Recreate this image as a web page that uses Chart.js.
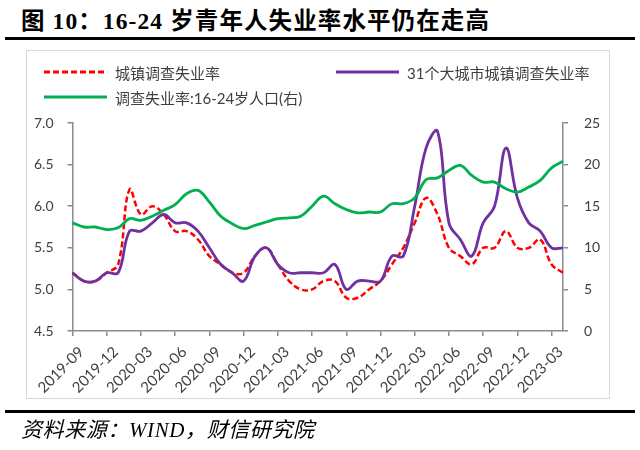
<!DOCTYPE html>
<html>
<head>
<meta charset="utf-8">
<script src="https://cdn.jsdelivr.net/npm/chart.js@4.4.0/dist/chart.umd.min.js"></script>
<style>
  body { margin: 0; width: 640px; height: 450px; position: relative; background: #fff; overflow: hidden; }
  #title { position: absolute; left: 21px; top: 10px; font: bold 23.5px/23px "Liberation Serif", "Noto Sans CJK SC"; color: #000; white-space: nowrap; letter-spacing: 1.1px; }
  .rule { position: absolute; left: 5px; width: 630px; height: 3px; background: #000; }
  #box { position: absolute; left: 26px; top: 50px; width: 584px; height: 349px; border: 1.5px solid #d9d9d9; box-sizing: border-box; }
  #chartWrap { position: absolute; left: 0; top: 0; width: 640px; height: 450px; }
  .leg { position: absolute; height: 20px; display: flex; align-items: center; font: 15px Lato, "Noto Sans CJK SC"; color: #404040; white-space: nowrap; }
  .leg svg { margin-right: 8px; }
  #source { position: absolute; left: 21px; top: 418px; font: italic 21px/24px "Liberation Serif", "Noto Sans CJK SC"; color: #000; white-space: nowrap; letter-spacing: 0.6px; }
</style>
</head>
<body>
<div id="title">图 10：16-24 岁青年人失业率水平仍在走高</div>
<div class="rule" style="top:37px"></div>
<div id="box"></div>
<div id="chartWrap"><canvas id="youthChart" width="640" height="450"></canvas></div>
<div id="legend"></div>
<div class="rule" style="top:410px"></div>
<div id="source">资料来源：WIND，财信研究院</div>

<script>
// months 2019-09 .. 2023-04
let months = [];
for (let y = 2019, m = 9; y < 2023 || m <= 4; m++) {
    if (m > 12) { m = 1; y++; }
    months.push(y + '-' + String(m).padStart(2, '0'));
}

// 城镇调查失业率 (%)
const urbanRate = [5.2, 5.1, 5.1, 5.2,
    5.3, 6.2, 5.9, 6.0, 5.9, 5.7, 5.7, 5.6, 5.4, 5.3, 5.2, 5.2,
    5.4, 5.5, 5.3, 5.1, 5.0, 5.0, 5.1, 5.1, 4.9, 4.9, 5.0, 5.1,
    5.3, 5.5, 5.8, 6.1, 5.9, 5.5, 5.4, 5.3, 5.5, 5.5, 5.7, 5.5,
    5.5, 5.6, 5.3, 5.2];

// 31个大城市城镇调查失业率 (%)
const bigCityRate = [5.2, 5.1, 5.1, 5.2,
    5.2, 5.7, 5.7, 5.8, 5.9, 5.8, 5.8, 5.7, 5.5, 5.3, 5.2, 5.1,
    5.4, 5.5, 5.3, 5.2, 5.2, 5.2, 5.2, 5.3, 5.0, 5.1, 5.1, 5.1,
    5.4, 5.4, 6.0, 6.7, 6.9, 5.8, 5.6, 5.4, 5.8, 6.0, 6.7, 6.1,
    5.8, 5.7, 5.5, 5.5];

// 调查失业率:16-24岁人口 (%), right axis
const youthRate = [13.0, 12.5, 12.5, 12.2,
    12.4, 13.5, 13.3, 13.8, 14.5, 15.2, 16.5, 16.9, 15.5, 13.8, 12.9, 12.3,
    12.7, 13.1, 13.5, 13.6, 13.8, 15.0, 16.2, 15.3, 14.6, 14.2, 14.3, 14.3,
    15.3, 15.3, 16.0, 18.2, 18.4, 19.3, 19.9, 18.7, 17.9, 17.9, 17.1, 16.7,
    17.3, 18.1, 19.6, 20.4];

const seriesNames = ['城镇调查失业率', '31个大城市城镇调查失业率', '调查失业率:16-24岁人口(右)'];

const axisColor = '#8c8c8c';
const tickFont = { family: 'Lato', size: 14 };
const textColor = '#404040';

const ctx = document.getElementById('youthChart').getContext('2d');
const chart = new Chart(ctx, {
    type: 'line',
    data: {
        labels: months,
        datasets: [
            {
                label: seriesNames[0],
                data: urbanRate,
                yAxisID: 'y',
                borderColor: '#ff0000',
                borderWidth: 2.5,
                borderDash: [6, 3],
                pointRadius: 0,
                tension: 0.4,
                order: 3
            },
            {
                label: seriesNames[1],
                data: bigCityRate,
                yAxisID: 'y',
                borderColor: '#7030a0',
                borderWidth: 2.8,
                pointRadius: 0,
                tension: 0.4,
                order: 2
            },
            {
                label: seriesNames[2],
                data: youthRate,
                yAxisID: 'y1',
                borderColor: '#00b050',
                borderWidth: 2.8,
                pointRadius: 0,
                tension: 0.4,
                order: 1
            }
        ]
    },
    options: {
        responsive: false,
        animation: false,
        layout: { padding: { top: 123, left: 0, right: 0, bottom: 0 } },
        plugins: {
            legend: { display: false },
            tooltip: { enabled: false }
        },
        scales: {
            x: {
                offset: false,
                grid: {
                    drawOnChartArea: false,
                    drawTicks: true,
                    tickLength: 5,
                    lineWidth: 1.5,
                    color: c => c.index % 3 === 0 ? axisColor : 'rgba(0,0,0,0)'
                },
                border: { color: axisColor, width: 1.5 },
                ticks: {
                    autoSkip: false,
                    minRotation: 45,
                    maxRotation: 45,
                    padding: 7,
                    labelOffset: 9,
                    font: { family: 'Lato', size: 15 },
                    color: textColor,
                    callback: (v, i) => i % 3 === 0 ? months[i] : ''
                },
                afterFit: s => { s.height = 119; }
            },
            y: {
                position: 'left',
                min: 4.5,
                max: 7.0,
                grid: { drawOnChartArea: false, tickLength: 5, color: axisColor, lineWidth: 1.5 },
                border: { color: axisColor, width: 1.5 },
                ticks: {
                    stepSize: 0.5,
                    padding: 14,
                    font: tickFont,
                    color: textColor,
                    callback: v => v.toFixed(1)
                },
                afterFit: s => { s.width = 72.5; }
            },
            y1: {
                position: 'right',
                min: 0,
                max: 25,
                grid: { drawOnChartArea: false, tickLength: 5, color: axisColor, lineWidth: 1.5 },
                border: { color: axisColor, width: 1.5 },
                ticks: {
                    stepSize: 5,
                    padding: 16,
                    font: tickFont,
                    color: textColor
                },
                afterFit: s => { s.width = 77; }
            }
        }
    }
});

// html legend, two columns like the original
const legendSlots = [[44, 62], [336, 62], [44, 87]];
const legendBox = document.getElementById('legend');
chart.data.datasets.forEach((ds, i) => {
    const item = document.createElement('div');
    item.className = 'leg';
    item.style.left = legendSlots[i][0] + 'px';
    item.style.top = legendSlots[i][1] + 'px';
    const dash = ds.borderDash ? ' stroke-dasharray="6 3"' : '';
    item.innerHTML = '<svg width="63" height="6"><line x1="0" y1="3" x2="63" y2="3" stroke="' +
        ds.borderColor + '" stroke-width="3"' + dash + '/></svg><span>' + ds.label + '</span>';
    legendBox.appendChild(item);
});
</script>
</body>
</html>
